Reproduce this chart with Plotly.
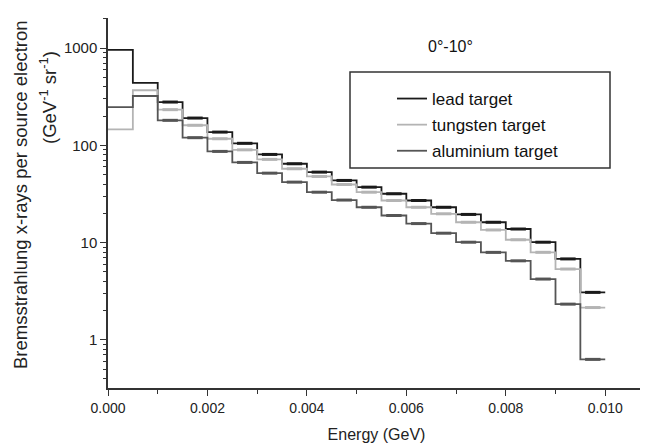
import plotly.graph_objects as go

# Bin edges (GeV)
energy_edges = [0.0000, 0.0005, 0.0010, 0.0015, 0.0020, 0.0025, 0.0030, 0.0035,
                0.0040, 0.0045, 0.0050, 0.0055, 0.0060, 0.0065, 0.0070, 0.0075,
                0.0080, 0.0085, 0.0090, 0.0095, 0.0100]

lead = [960, 439, 279, 191, 137, 105, 80.7, 64.7, 53.1, 43.6,
        37.2, 31.8, 27.1, 23.1, 19.5, 16.2, 13.8, 10.1, 6.8, 3.08]
tungsten = [146, 369, 233, 161, 117, 90, 71.8, 57.5, 47.9, 39.6,
            33.0, 27.1, 23.1, 19.8, 16.2, 13.5, 10.7, 7.95, 5.35, 2.15]
aluminium = [247, 322, 181, 120, 86.7, 66.8, 51.8, 41.9, 33.0, 27.4,
             23.1, 19.0, 15.7, 12.5, 10.1, 7.94, 6.5, 4.22, 2.33, 0.63]

series = [
    ("lead target", lead, "#1a1a1a"),
    ("tungsten target", tungsten, "#b4b4b4"),
    ("aluminium target", aluminium, "#555555"),
]

x_ticks = [0, 0.002, 0.004, 0.006, 0.008, 0.010]
x_minor = [0.001, 0.003, 0.005, 0.007, 0.009]
y_major = [1, 10, 100, 1000]
y_minor = [0.4, 0.5, 0.6, 0.7, 0.8, 0.9, 2, 3, 4, 5, 6, 7, 8, 9,
           20, 30, 40, 50, 60, 70, 80, 90, 200, 300, 400, 500, 600, 700, 800, 900, 2000]

# page body adds an 8 px offset, so the figure is drawn 8 px smaller
W, H = 640, 440
ML, MR, MT, MB = 100, 3, 10, 60
plot_w, plot_h = W - ML - MR, H - MT - MB


def px_to_paper(x, y):
    # x, y are window pixels (including the 8 px page offset)
    return (x - 8 - ML) / plot_w, (H - MB - (y - 8)) / plot_h


fig = go.Figure()
centers = [(energy_edges[i] + energy_edges[i + 1]) / 2 for i in range(len(energy_edges) - 1)]
for i, (name, vals, col) in enumerate(series):
    fig.add_trace(go.Scatter(
        x=energy_edges, y=vals + [vals[-1]], mode="lines", name=name,
        legendgroup=f"g{i}",
        line=dict(color=col, width=1.8, shape="hv"),
    ))
for name, vals, col in series:
    fig.add_trace(go.Scatter(
        x=centers[2:], y=vals[2:], mode="markers", showlegend=False, hoverinfo="skip",
        marker=dict(symbol="line-ew-open", size=11, color=col, line=dict(color=col, width=3)),
    ))

# Legend frame (decoration)
bx0, by0 = px_to_paper(350, 168)
bx1, by1 = px_to_paper(610, 72)
fig.add_shape(type="rect", xref="paper", yref="paper",
              x0=bx0, x1=bx1, y0=by0, y1=by1,
              line=dict(color="#333333", width=1.5), fillcolor="rgba(0,0,0,0)", layer="above")

lx, ly = px_to_paper(392, 81)
tx, ty = px_to_paper(450, 47)
t1x, t1y = px_to_paper(20, 195)
t2x, t2y = px_to_paper(48, 98)

font_family = "Liberation Sans, Arial, sans-serif"
fig.update_layout(
    width=W, height=H,
    margin=dict(l=ML, r=MR, t=MT, b=MB, autoexpand=False),
    paper_bgcolor="white", plot_bgcolor="white",
    font=dict(family=font_family, color="#222222", size=14),
    showlegend=True,
    legend=dict(
        x=lx, y=ly, xanchor="left", yanchor="top",
        bgcolor="rgba(0,0,0,0)", borderwidth=0,
        font=dict(size=17, color="#111111"),
        tracegroupgap=1,
    ),
    annotations=[
        dict(text="0°-10°", x=tx, y=ty, xref="paper", yref="paper",
             xanchor="center", yanchor="middle", showarrow=False,
             font=dict(size=16, color="#111111")),
        dict(text="Bremsstrahlung x-rays per source electron", textangle=-90,
             x=t1x, y=t1y, xref="paper", yref="paper", showarrow=False,
             xanchor="center", yanchor="middle",
             font=dict(size=18.5, color="#222222")),
        dict(text="(GeV<sup>-1</sup> sr<sup>-1</sup>)", textangle=-90,
             x=t2x, y=t2y, xref="paper", yref="paper", showarrow=False,
             xanchor="center", yanchor="middle",
             font=dict(size=18.5, color="#222222")),
    ],
)

fig.update_xaxes(
    range=[0, 0.0108], automargin=False,
    tickvals=x_ticks, tickformat=".3f",
    ticks="outside", ticklen=6, tickwidth=1.3, tickcolor="#333333",
    minor=dict(tickvals=x_minor, ticks="outside",
               ticklen=4, tickwidth=1.2, tickcolor="#333333", showgrid=False),
    showline=True, linecolor="#333333", linewidth=1.5,
    showgrid=False, zeroline=False,
    title=dict(text="Energy (GeV)", font=dict(size=16), standoff=14),
)
fig.update_yaxes(
    type="log", range=[-0.495, 3.31], automargin=False,
    tickvals=y_major, ticktext=["1", "10", "100", "1000"],
    tickfont=dict(size=15),
    ticks="outside", ticklen=6, tickwidth=1.3, tickcolor="#333333",
    minor=dict(tickvals=y_minor, ticks="outside", ticklen=3, tickwidth=1,
               tickcolor="#333333", showgrid=False),
    showline=True, linecolor="#333333", linewidth=1.5,
    showgrid=False, zeroline=False,
)

fig.write_html("out.html")
